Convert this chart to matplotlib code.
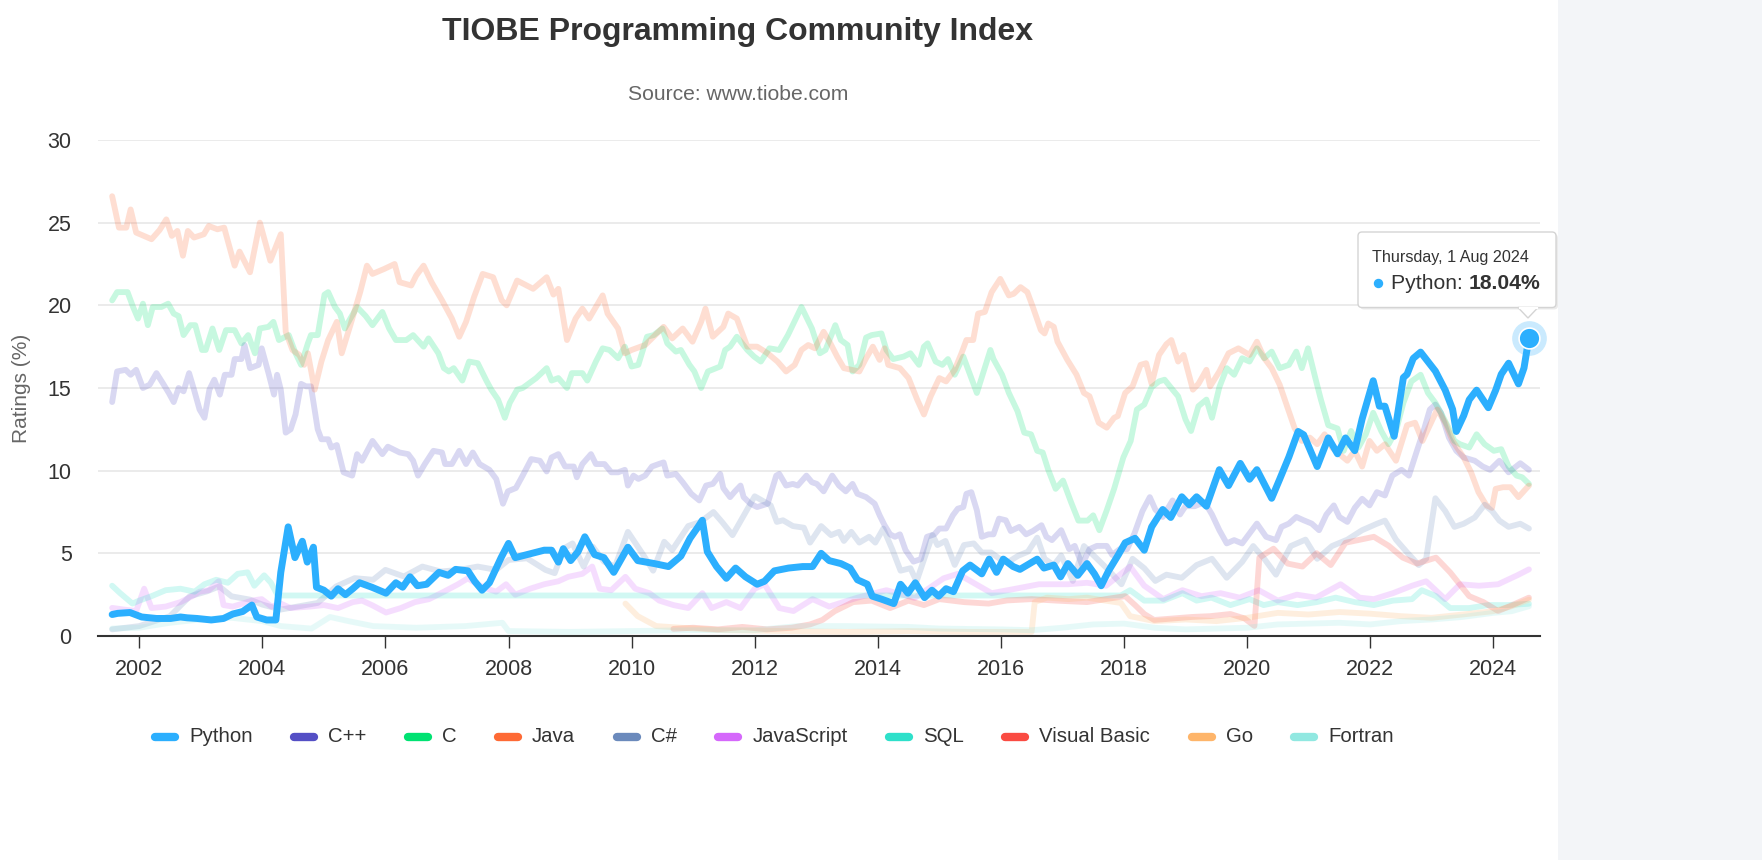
import matplotlib.pyplot as plt
from matplotlib.lines import Line2D
from matplotlib.patches import FancyBboxPatch, Polygon, Rectangle, Circle

plt.rcParams['font.family'] = ['Liberation Sans', 'DejaVu Sans']

# (decimal year, rating %)
python_pts = [
    (2001.56, 1.3), (2001.65, 1.37), (2001.85, 1.42), (2002.04, 1.15), (2002.28, 1.06),
    (2002.51, 1.06), (2002.67, 1.15), (2002.78, 1.1), (2002.94, 1.06), (2003.17, 0.97),
    (2003.37, 1.06), (2003.52, 1.33), (2003.68, 1.48), (2003.83, 1.87), (2003.91, 1.15),
    (2004.07, 0.97), (2004.22, 0.97), (2004.3, 3.85), (2004.42, 6.6), (2004.53, 4.74),
    (2004.65, 5.73), (2004.73, 4.47), (2004.83, 5.37), (2004.88, 2.95), (2005.0, 2.77),
    (2005.12, 2.41), (2005.23, 2.86), (2005.35, 2.5), (2005.47, 2.86), (2005.58, 3.22),
    (2005.78, 2.95), (2006.01, 2.59), (2006.17, 3.22), (2006.28, 2.95), (2006.4, 3.58),
    (2006.52, 3.04), (2006.67, 3.13), (2006.87, 3.85), (2007.02, 3.67), (2007.14, 4.03),
    (2007.34, 3.94), (2007.45, 3.31), (2007.57, 2.77), (2007.69, 3.22), (2007.88, 4.74),
    (2008.0, 5.6), (2008.11, 4.74), (2008.58, 5.19), (2008.7, 5.19), (2008.81, 4.47),
    (2008.89, 5.28), (2009.01, 4.56), (2009.13, 5.1), (2009.24, 6.0), (2009.4, 4.92),
    (2009.55, 4.74), (2009.71, 3.85), (2009.94, 5.37), (2010.1, 4.56), (2010.37, 4.38),
    (2010.6, 4.2), (2010.8, 4.83), (2010.95, 5.91), (2011.08, 6.6), (2011.15, 7.0),
    (2011.23, 5.1), (2011.38, 4.2), (2011.54, 3.49), (2011.69, 4.11), (2011.85, 3.58),
    (2012.04, 3.13), (2012.16, 3.31), (2012.32, 3.94), (2012.55, 4.11), (2012.78, 4.2),
    (2012.94, 4.2), (2013.08, 5.0), (2013.21, 4.56), (2013.4, 4.38), (2013.55, 4.11),
    (2013.67, 3.4), (2013.83, 3.13), (2013.91, 2.41), (2014.06, 2.23), (2014.26, 1.96),
    (2014.37, 3.13), (2014.49, 2.59), (2014.61, 3.22), (2014.76, 2.32), (2014.88, 2.77),
    (2014.99, 2.41), (2015.11, 2.86), (2015.23, 2.68), (2015.38, 3.94), (2015.5, 4.29),
    (2015.69, 3.76), (2015.81, 4.65), (2015.93, 3.85), (2016.04, 4.65), (2016.2, 4.2),
    (2016.31, 4.03), (2016.47, 4.38), (2016.59, 4.65), (2016.7, 4.11), (2016.86, 4.29),
    (2016.97, 3.58), (2017.09, 4.38), (2017.25, 3.67), (2017.4, 4.38), (2017.52, 3.76),
    (2017.63, 3.04), (2017.75, 3.94), (2017.91, 4.92), (2018.02, 5.64), (2018.18, 5.91),
    (2018.33, 5.19), (2018.45, 6.6), (2018.63, 7.65), (2018.76, 7.17), (2018.94, 8.42),
    (2019.06, 7.94), (2019.18, 8.42), (2019.34, 7.85), (2019.55, 10.06), (2019.7, 9.1),
    (2019.89, 10.44), (2020.04, 9.48), (2020.16, 10.06), (2020.28, 9.2), (2020.4, 8.33),
    (2020.53, 9.48), (2020.68, 10.83), (2020.83, 12.37), (2020.92, 12.17), (2021.14, 10.25),
    (2021.32, 11.98), (2021.47, 11.02), (2021.6, 11.98), (2021.75, 11.21), (2021.87, 13.13),
    (2022.05, 15.44), (2022.15, 13.9), (2022.24, 13.9), (2022.39, 12.08), (2022.54, 15.63),
    (2022.6, 15.83), (2022.7, 16.79), (2022.82, 17.17), (2022.94, 16.6), (2023.06, 16.02),
    (2023.22, 14.87), (2023.34, 13.71), (2023.4, 12.37), (2023.52, 13.33), (2023.61, 14.29),
    (2023.73, 14.87), (2023.92, 13.81), (2024.04, 14.87), (2024.13, 15.83), (2024.25, 16.5),
    (2024.41, 15.25), (2024.5, 16.21), (2024.58, 18.04),
]

cpp_pts = [
    (2001.56, 14.15), (2001.64, 16.0), (2001.78, 16.1), (2001.86, 15.8), (2001.95, 16.1),
    (2002.06, 15.0), (2002.17, 15.2), (2002.28, 15.9), (2002.39, 15.25), (2002.48, 14.7),
    (2002.56, 14.15), (2002.64, 15.0), (2002.72, 14.8), (2002.81, 15.9), (2002.89, 14.9),
    (2002.98, 13.7), (2003.06, 13.2), (2003.14, 14.9), (2003.22, 15.5), (2003.31, 14.6),
    (2003.39, 15.8), (2003.5, 15.8), (2003.55, 16.75), (2003.66, 16.75), (2003.71, 17.6),
    (2003.8, 16.2), (2003.94, 16.4), (2003.99, 17.4), (2004.1, 15.9), (2004.19, 14.6),
    (2004.24, 15.8), (2004.3, 14.9), (2004.38, 12.3), (2004.46, 12.5), (2004.54, 13.4),
    (2004.63, 15.25), (2004.71, 15.1), (2004.79, 15.1), (2004.9, 12.5), (2004.96, 11.9),
    (2005.07, 11.9), (2005.12, 11.4), (2005.21, 11.55), (2005.32, 9.9), (2005.46, 9.7),
    (2005.54, 11.0), (2005.62, 10.6), (2005.79, 11.8), (2005.95, 11.0), (2006.04, 11.45),
    (2006.23, 11.1), (2006.37, 11.0), (2006.45, 10.6), (2006.53, 9.7), (2006.64, 10.4),
    (2006.78, 11.2), (2006.92, 11.1), (2006.97, 10.4), (2007.08, 10.4), (2007.2, 11.2),
    (2007.31, 10.4), (2007.42, 11.1), (2007.53, 10.4), (2007.69, 10.05), (2007.8, 9.5),
    (2007.91, 8.0), (2007.99, 8.75), (2008.12, 8.95), (2008.23, 9.7), (2008.37, 10.7),
    (2008.51, 10.6), (2008.62, 9.95), (2008.7, 10.8), (2008.81, 11.0), (2008.92, 10.25),
    (2009.06, 10.25), (2009.11, 9.6), (2009.2, 10.4), (2009.34, 11.0), (2009.42, 10.4),
    (2009.56, 10.4), (2009.67, 9.9), (2009.78, 9.9), (2009.89, 10.05), (2009.94, 9.1),
    (2010.03, 9.7), (2010.11, 9.5), (2010.22, 9.7), (2010.33, 10.25), (2010.44, 10.4),
    (2010.52, 10.5), (2010.58, 9.7), (2010.72, 9.8), (2010.83, 9.3), (2010.97, 8.6),
    (2011.1, 8.2), (2011.21, 9.1), (2011.32, 9.2), (2011.44, 9.8), (2011.49, 8.95),
    (2011.6, 8.4), (2011.68, 8.75), (2011.77, 9.1), (2011.82, 8.4), (2011.93, 8.0),
    (2012.04, 7.8), (2012.21, 8.0), (2012.35, 9.7), (2012.4, 9.8), (2012.51, 9.1),
    (2012.62, 9.2), (2012.7, 9.1), (2012.84, 9.7), (2012.93, 9.3), (2013.01, 9.2),
    (2013.12, 8.75), (2013.26, 9.7), (2013.37, 9.1), (2013.48, 8.75), (2013.59, 9.2),
    (2013.67, 8.6), (2013.81, 8.4), (2013.95, 8.0), (2014.03, 7.3), (2014.11, 6.7),
    (2014.2, 6.15), (2014.28, 6.0), (2014.36, 6.15), (2014.45, 5.2), (2014.58, 4.5),
    (2014.7, 4.65), (2014.8, 6.0), (2014.92, 6.15), (2015.0, 6.5), (2015.11, 6.5),
    (2015.22, 7.3), (2015.3, 7.7), (2015.39, 7.8), (2015.44, 8.6), (2015.52, 8.7),
    (2015.61, 7.6), (2015.69, 6.0), (2015.8, 6.15), (2015.88, 6.15), (2015.97, 7.1),
    (2016.08, 7.0), (2016.16, 6.35), (2016.3, 6.6), (2016.41, 6.15), (2016.52, 6.35),
    (2016.66, 6.7), (2016.74, 6.0), (2016.83, 5.8), (2016.98, 6.4), (2017.11, 5.25),
    (2017.2, 5.45), (2017.32, 4.3), (2017.44, 5.25), (2017.56, 5.45), (2017.72, 5.45),
    (2017.81, 4.9), (2017.93, 5.25), (2018.05, 5.25), (2018.17, 6.2), (2018.3, 7.55),
    (2018.42, 8.4), (2018.51, 7.65), (2018.63, 7.2), (2018.79, 8.2), (2018.91, 7.35),
    (2019.0, 7.85), (2019.15, 7.85), (2019.31, 8.1), (2019.43, 7.35), (2019.55, 6.4),
    (2019.67, 5.6), (2019.79, 5.8), (2019.92, 5.6), (2020.04, 6.2), (2020.16, 6.8),
    (2020.31, 6.0), (2020.47, 5.8), (2020.56, 6.6), (2020.68, 6.8), (2020.8, 7.2),
    (2020.92, 7.0), (2021.05, 6.8), (2021.17, 6.4), (2021.29, 7.35), (2021.41, 7.9),
    (2021.5, 7.2), (2021.63, 6.9), (2021.75, 7.75), (2021.87, 8.3), (2021.99, 7.9),
    (2022.11, 8.7), (2022.24, 8.5), (2022.36, 9.7), (2022.51, 10.05), (2022.63, 9.7),
    (2022.76, 11.2), (2022.88, 12.55), (2022.97, 13.7), (2023.06, 14.0), (2023.15, 13.5),
    (2023.28, 12.0), (2023.4, 11.2), (2023.52, 10.8), (2023.7, 10.6), (2023.83, 10.25),
    (2023.95, 10.05), (2024.1, 10.6), (2024.25, 9.9), (2024.44, 10.45), (2024.58, 10.05),
]

c_pts = [
    (2001.56, 20.3), (2001.64, 20.8), (2001.81, 20.8), (2001.9, 19.9), (2001.98, 19.2),
    (2002.06, 20.1), (2002.14, 18.8), (2002.22, 19.9), (2002.36, 19.9), (2002.47, 20.1),
    (2002.56, 19.5), (2002.64, 19.35), (2002.72, 18.2), (2002.83, 18.8), (2002.91, 18.8),
    (2003.02, 17.3), (2003.08, 17.3), (2003.19, 18.6), (2003.3, 17.3), (2003.41, 18.5),
    (2003.55, 18.5), (2003.66, 17.7), (2003.77, 18.2), (2003.88, 17.1), (2003.96, 18.6),
    (2004.1, 18.7), (2004.18, 19.0), (2004.27, 17.9), (2004.43, 18.2), (2004.54, 17.1),
    (2004.63, 16.4), (2004.74, 17.7), (2004.79, 18.2), (2004.9, 18.2), (2005.01, 20.65),
    (2005.07, 20.8), (2005.18, 19.9), (2005.26, 19.5), (2005.34, 18.6), (2005.43, 19.2),
    (2005.54, 19.9), (2005.68, 19.35), (2005.79, 18.8), (2005.95, 19.6), (2006.06, 18.6),
    (2006.17, 17.9), (2006.34, 17.9), (2006.45, 18.2), (2006.62, 17.5), (2006.7, 18.0),
    (2006.86, 17.1), (2006.95, 16.2), (2007.03, 16.0), (2007.11, 16.2), (2007.25, 15.45),
    (2007.36, 16.6), (2007.5, 16.5), (2007.64, 15.45), (2007.72, 14.9), (2007.83, 14.3),
    (2007.94, 13.2), (2008.02, 14.1), (2008.14, 14.9), (2008.23, 15.0), (2008.45, 15.6),
    (2008.62, 16.2), (2008.7, 15.45), (2008.81, 15.6), (2008.95, 15.0), (2009.03, 15.9),
    (2009.2, 15.9), (2009.28, 15.45), (2009.42, 16.6), (2009.53, 17.4), (2009.64, 17.3),
    (2009.78, 16.8), (2009.89, 17.5), (2010.0, 16.3), (2010.11, 16.4), (2010.25, 18.1),
    (2010.36, 18.2), (2010.5, 18.6), (2010.58, 17.7), (2010.72, 17.2), (2010.8, 17.3),
    (2010.94, 16.4), (2011.02, 16.0), (2011.13, 15.0), (2011.24, 16.0), (2011.44, 16.3),
    (2011.52, 17.3), (2011.6, 17.5), (2011.71, 18.1), (2011.88, 17.3), (2011.99, 16.9),
    (2012.1, 16.6), (2012.24, 17.4), (2012.4, 17.3), (2012.54, 18.2), (2012.76, 19.9),
    (2012.93, 18.6), (2013.06, 17.1), (2013.15, 17.3), (2013.31, 18.8), (2013.4, 17.9),
    (2013.51, 17.6), (2013.59, 16.0), (2013.7, 16.4), (2013.81, 18.05), (2013.9, 18.2),
    (2014.06, 18.3), (2014.14, 17.3), (2014.25, 16.75), (2014.42, 16.9), (2014.53, 17.1),
    (2014.67, 16.4), (2014.75, 17.5), (2014.81, 17.7), (2014.94, 16.6), (2015.05, 16.4),
    (2015.14, 16.75), (2015.25, 15.8), (2015.39, 16.9), (2015.52, 15.6), (2015.61, 14.7),
    (2015.72, 16.0), (2015.83, 17.3), (2015.88, 16.75), (2016.02, 15.8), (2016.13, 14.7),
    (2016.27, 13.6), (2016.38, 12.3), (2016.49, 12.2), (2016.59, 11.2), (2016.68, 11.1),
    (2016.77, 10.05), (2016.89, 8.9), (2017.01, 9.4), (2017.14, 8.1), (2017.26, 6.98),
    (2017.41, 6.98), (2017.5, 7.3), (2017.6, 6.4), (2017.72, 7.6), (2017.84, 8.9),
    (2017.99, 10.8), (2018.11, 11.8), (2018.21, 13.7), (2018.33, 14.0), (2018.45, 15.05),
    (2018.57, 15.4), (2018.66, 15.5), (2018.79, 14.9), (2018.88, 14.5), (2019.0, 13.1),
    (2019.09, 12.4), (2019.21, 13.9), (2019.34, 14.3), (2019.43, 13.2), (2019.55, 15.05),
    (2019.67, 16.2), (2019.79, 15.8), (2019.92, 16.8), (2020.04, 16.6), (2020.16, 17.4),
    (2020.28, 16.8), (2020.4, 17.2), (2020.53, 16.2), (2020.68, 16.4), (2020.8, 17.2),
    (2020.89, 16.2), (2020.99, 17.4), (2021.11, 15.6), (2021.2, 14.3), (2021.32, 12.75),
    (2021.47, 12.55), (2021.57, 11.2), (2021.69, 12.4), (2021.81, 11.4), (2021.93, 12.2),
    (2022.05, 13.5), (2022.18, 12.4), (2022.3, 11.6), (2022.42, 12.4), (2022.54, 14.1),
    (2022.67, 15.4), (2022.82, 15.8), (2022.94, 14.7), (2023.06, 14.1), (2023.15, 13.5),
    (2023.28, 12.55), (2023.37, 11.8), (2023.46, 11.6), (2023.61, 11.4), (2023.73, 12.2),
    (2023.86, 11.6), (2024.01, 11.2), (2024.13, 11.3), (2024.25, 10.25), (2024.38, 9.7),
    (2024.47, 9.6), (2024.58, 9.2),
]

java_pts = [
    (2001.56, 26.6), (2001.67, 24.7), (2001.79, 24.7), (2001.86, 25.8), (2001.95, 24.4),
    (2002.2, 24.0), (2002.33, 24.55), (2002.44, 25.2), (2002.53, 24.2), (2002.62, 24.5),
    (2002.71, 23.0), (2002.79, 24.5), (2002.89, 24.1), (2003.05, 24.3), (2003.13, 24.8),
    (2003.27, 24.6), (2003.38, 24.7), (2003.55, 22.4), (2003.63, 23.25), (2003.8, 22.0),
    (2003.96, 25.0), (2004.13, 22.7), (2004.3, 24.3), (2004.38, 18.4), (2004.49, 17.3),
    (2004.6, 17.0), (2004.68, 16.4), (2004.74, 17.1), (2004.85, 14.9), (2004.96, 16.6),
    (2005.07, 17.9), (2005.21, 19.0), (2005.29, 17.1), (2005.43, 18.8), (2005.59, 20.8),
    (2005.7, 22.4), (2005.79, 21.9), (2005.98, 22.2), (2006.15, 22.5), (2006.23, 21.4),
    (2006.42, 21.2), (2006.5, 21.8), (2006.62, 22.4), (2006.75, 21.4), (2006.92, 20.3),
    (2007.08, 19.2), (2007.2, 18.1), (2007.31, 19.0), (2007.44, 20.5), (2007.58, 21.9),
    (2007.75, 21.7), (2007.89, 20.3), (2007.97, 20.0), (2008.14, 21.5), (2008.4, 21.0),
    (2008.62, 21.7), (2008.73, 20.65), (2008.81, 21.0), (2008.95, 17.9), (2009.09, 19.2),
    (2009.2, 19.8), (2009.31, 19.2), (2009.53, 20.6), (2009.61, 19.5), (2009.78, 18.6),
    (2009.89, 17.1), (2010.0, 17.3), (2010.22, 17.6), (2010.33, 18.0), (2010.52, 18.7),
    (2010.66, 18.0), (2010.83, 18.6), (2010.99, 17.8), (2011.13, 19.0), (2011.2, 19.8),
    (2011.32, 18.1), (2011.49, 18.7), (2011.57, 19.5), (2011.71, 19.2), (2011.88, 17.5),
    (2012.04, 17.5), (2012.21, 17.1), (2012.37, 16.6), (2012.51, 16.0), (2012.65, 16.4),
    (2012.76, 17.3), (2012.87, 17.6), (2012.98, 17.4), (2013.12, 18.4), (2013.23, 17.7),
    (2013.34, 16.9), (2013.45, 16.2), (2013.7, 16.0), (2013.81, 16.8), (2013.92, 17.5),
    (2014.03, 16.7), (2014.11, 17.4), (2014.17, 16.4), (2014.36, 16.2), (2014.5, 15.6),
    (2014.64, 14.3), (2014.75, 13.4), (2014.86, 14.5), (2015.0, 15.6), (2015.11, 15.4),
    (2015.25, 16.1), (2015.36, 17.1), (2015.44, 17.9), (2015.55, 17.9), (2015.63, 19.5),
    (2015.74, 19.6), (2015.85, 20.8), (2015.99, 21.6), (2016.13, 20.6), (2016.21, 20.7),
    (2016.32, 21.1), (2016.43, 20.8), (2016.52, 19.9), (2016.65, 18.5), (2016.71, 18.3),
    (2016.77, 18.9), (2016.86, 18.7), (2016.92, 17.8), (2017.08, 16.7), (2017.23, 15.8),
    (2017.35, 14.7), (2017.44, 14.5), (2017.59, 12.9), (2017.72, 12.6), (2017.84, 13.2),
    (2017.9, 13.3), (2018.02, 14.7), (2018.14, 15.1), (2018.27, 16.4), (2018.36, 16.5),
    (2018.45, 15.25), (2018.57, 17.0), (2018.69, 17.65), (2018.77, 17.9), (2018.88, 16.6),
    (2018.97, 17.0), (2019.12, 14.9), (2019.21, 15.25), (2019.34, 16.1), (2019.4, 15.1),
    (2019.55, 16.0), (2019.7, 17.1), (2019.86, 17.4), (2020.04, 17.0), (2020.16, 17.8),
    (2020.28, 16.8), (2020.4, 16.2), (2020.53, 15.2), (2020.65, 13.9), (2020.77, 12.6),
    (2020.89, 11.8), (2021.02, 12.0), (2021.14, 11.6), (2021.26, 12.2), (2021.38, 11.4),
    (2021.5, 11.0), (2021.63, 10.6), (2021.75, 11.2), (2021.87, 10.25), (2021.99, 11.8),
    (2022.11, 11.2), (2022.24, 11.6), (2022.42, 10.6), (2022.6, 12.75), (2022.73, 12.9),
    (2022.85, 11.8), (2022.97, 12.75), (2023.09, 13.7), (2023.22, 12.9), (2023.34, 11.8),
    (2023.52, 10.8), (2023.64, 9.9), (2023.76, 8.7), (2023.89, 7.9), (2023.98, 7.75),
    (2024.04, 8.9), (2024.16, 9.0), (2024.28, 9.0), (2024.41, 8.4), (2024.58, 9.1),
]

csharp_pts = [
    (2001.56, 0.4), (2002.0, 0.6), (2002.5, 1.2), (2002.82, 2.4), (2003.1, 2.7),
    (2003.3, 3.0), (2003.5, 2.4), (2003.8, 2.2), (2004.0, 1.9), (2004.3, 1.6),
    (2004.6, 1.8), (2004.9, 2.0), (2005.2, 3.0), (2005.5, 3.5), (2005.8, 3.4),
    (2006.0, 4.0), (2006.3, 3.6), (2006.6, 4.2), (2006.9, 3.9), (2007.2, 4.0),
    (2007.5, 4.2), (2007.8, 4.0), (2008.0, 4.6), (2008.3, 4.7), (2008.6, 4.0),
    (2008.75, 3.8), (2008.9, 5.3), (2009.04, 5.6), (2009.22, 4.2), (2009.37, 5.4),
    (2009.55, 4.5), (2009.73, 4.2), (2009.94, 6.3), (2010.2, 4.85), (2010.35, 3.95),
    (2010.53, 5.7), (2010.66, 5.2), (2010.92, 6.65), (2011.12, 6.9), (2011.33, 7.5),
    (2011.48, 6.85), (2011.64, 6.1), (2011.74, 6.75), (2012.0, 8.45), (2012.26, 7.9),
    (2012.36, 6.9), (2012.46, 7.0), (2012.62, 6.65), (2012.8, 6.55), (2012.9, 5.65),
    (2013.08, 6.65), (2013.24, 6.1), (2013.37, 6.3), (2013.45, 5.75), (2013.57, 6.3),
    (2013.7, 5.65), (2013.86, 6.0), (2013.96, 5.65), (2014.09, 6.5), (2014.24, 5.2),
    (2014.37, 3.95), (2014.53, 4.1), (2014.63, 3.3), (2014.79, 5.05), (2014.89, 6.1),
    (2014.97, 5.5), (2015.1, 5.75), (2015.25, 4.3), (2015.4, 5.5), (2015.56, 5.6),
    (2015.69, 5.05), (2015.84, 5.05), (2015.97, 4.7), (2016.13, 4.5), (2016.28, 4.85),
    (2016.44, 5.1), (2016.59, 5.95), (2016.71, 4.67), (2016.86, 4.29), (2016.98, 4.87),
    (2017.17, 3.33), (2017.35, 5.44), (2017.72, 4.1), (2017.96, 3.13), (2018.14, 4.67),
    (2018.33, 4.1), (2018.51, 3.33), (2018.69, 3.71), (2018.94, 3.52), (2019.18, 4.29),
    (2019.43, 4.67), (2019.67, 3.52), (2019.92, 4.48), (2020.1, 5.44), (2020.28, 4.67),
    (2020.47, 3.71), (2020.71, 5.44), (2020.95, 5.83), (2021.14, 4.67), (2021.38, 5.44),
    (2021.63, 5.83), (2021.87, 6.4), (2022.11, 6.79), (2022.24, 6.98), (2022.42, 5.83),
    (2022.6, 5.06), (2022.79, 4.29), (2022.91, 4.67), (2023.06, 8.33), (2023.22, 7.56),
    (2023.37, 6.6), (2023.52, 6.79), (2023.7, 7.17), (2023.86, 7.94), (2023.98, 7.56),
    (2024.1, 6.98), (2024.25, 6.6), (2024.44, 6.79), (2024.58, 6.5),
]

js_pts = [
    (2001.56, 1.7), (2001.75, 1.6), (2001.95, 1.51), (2002.08, 2.86), (2002.2, 1.69),
    (2002.43, 1.78), (2002.67, 2.05), (2002.86, 2.41), (2002.98, 2.68), (2003.13, 2.77),
    (2003.29, 3.31), (2003.37, 1.87), (2003.52, 1.78), (2003.68, 1.96), (2003.83, 2.14),
    (2003.99, 2.23), (2004.15, 1.78), (2004.3, 1.96), (2004.46, 1.69), (2004.77, 1.78),
    (2005.0, 1.87), (2005.23, 1.69), (2005.47, 2.05), (2005.62, 2.14), (2005.78, 1.87),
    (2006.01, 1.42), (2006.25, 1.69), (2006.48, 2.05), (2006.71, 2.23), (2006.95, 2.68),
    (2007.18, 3.13), (2007.34, 3.49), (2007.49, 3.13), (2007.65, 2.86), (2007.8, 2.68),
    (2007.96, 3.13), (2008.11, 2.5), (2008.35, 2.86), (2008.58, 3.13), (2008.81, 3.31),
    (2008.97, 3.58), (2009.2, 3.76), (2009.36, 4.2), (2009.48, 2.86), (2009.67, 2.77),
    (2009.9, 3.58), (2010.06, 2.86), (2010.29, 2.59), (2010.45, 2.14), (2010.68, 1.87),
    (2010.92, 1.69), (2011.15, 2.59), (2011.3, 1.69), (2011.54, 2.05), (2011.77, 1.69),
    (2012.0, 2.86), (2012.16, 3.13), (2012.4, 1.69), (2012.63, 1.51), (2012.94, 2.23),
    (2013.21, 1.78), (2013.67, 2.32), (2014.14, 2.77), (2014.6, 2.3), (2015.07, 3.49),
    (2015.3, 3.76), (2015.85, 2.59), (2016.24, 2.86), (2016.62, 3.13), (2017.09, 3.13),
    (2017.4, 3.22), (2017.71, 3.04), (2018.1, 4.2), (2018.33, 3.04), (2018.64, 2.23),
    (2018.95, 2.77), (2019.26, 2.41), (2019.57, 2.59), (2019.88, 2.32), (2020.19, 2.77),
    (2020.5, 2.14), (2020.81, 2.5), (2021.12, 2.32), (2021.52, 3.13), (2021.83, 2.32),
    (2022.06, 2.23), (2022.37, 2.59), (2022.68, 3.04), (2022.91, 3.31), (2023.22, 2.23),
    (2023.46, 3.13), (2023.77, 3.04), (2024.08, 3.13), (2024.39, 3.67), (2024.58, 4.03),
]

sql_pts = [
    (2001.56, 3.04), (2001.69, 2.59), (2001.89, 1.96), (2002.0, 2.14), (2002.2, 2.41),
    (2002.43, 2.77), (2002.67, 2.86), (2002.9, 2.68), (2003.06, 3.13), (2003.25, 3.4),
    (2003.44, 3.22), (2003.6, 3.76), (2003.76, 3.85), (2003.87, 3.04), (2004.03, 3.67),
    (2004.14, 3.22), (2004.25, 2.45), (2017.95, 2.45), (2018.1, 2.77), (2018.33, 2.14),
    (2018.64, 2.14), (2018.95, 2.59), (2019.18, 2.14), (2019.42, 2.32), (2019.73, 1.87),
    (2020.04, 2.23), (2020.27, 1.87), (2020.5, 2.05), (2020.82, 1.87), (2021.13, 2.05),
    (2021.44, 2.32), (2021.75, 2.05), (2022.06, 1.87), (2022.37, 2.14), (2022.68, 2.23),
    (2022.84, 2.77), (2023.07, 2.41), (2023.3, 1.69), (2023.61, 1.69), (2023.92, 1.87),
    (2024.23, 1.87), (2024.58, 1.95),
]

vb_pts = [
    (2010.68, 0.43), (2011.0, 0.5), (2011.4, 0.4), (2011.8, 0.55), (2012.2, 0.4),
    (2012.6, 0.5), (2012.9, 0.7), (2013.1, 0.97), (2013.3, 1.5), (2013.6, 2.05),
    (2013.9, 2.14), (2014.2, 1.69), (2014.5, 2.14), (2014.75, 1.87), (2015.0, 2.23),
    (2015.4, 2.05), (2015.8, 1.96), (2016.1, 2.15), (2016.5, 2.23), (2016.9, 2.14),
    (2017.4, 2.05), (2017.7, 2.23), (2018.02, 2.41), (2018.18, 1.87), (2018.33, 1.33),
    (2018.49, 0.97), (2018.8, 1.06), (2019.1, 1.15), (2019.4, 1.2), (2019.73, 1.33),
    (2019.96, 1.06), (2020.12, 0.61), (2020.2, 4.74), (2020.43, 5.28), (2020.66, 4.38),
    (2020.9, 4.2), (2021.13, 5.01), (2021.36, 4.29), (2021.6, 5.64), (2021.83, 5.82),
    (2022.06, 6.0), (2022.3, 5.46), (2022.53, 4.74), (2022.76, 4.38), (2023.07, 4.74),
    (2023.3, 3.85), (2023.61, 2.41), (2023.84, 2.05), (2024.08, 1.51), (2024.31, 1.87),
    (2024.58, 2.32),
]

go_pts = [
    (2009.9, 1.96), (2010.1, 1.2), (2010.4, 0.6), (2010.8, 0.5), (2011.5, 0.35),
    (2012.5, 0.3), (2013.5, 0.25), (2014.5, 0.3), (2015.5, 0.25), (2016.5, 0.25),
    (2016.55, 2.05), (2016.75, 2.32), (2017.1, 2.23), (2017.4, 2.32), (2017.7, 2.14),
    (2017.95, 2.0), (2018.1, 1.2), (2018.5, 0.9), (2019.0, 1.0), (2019.5, 0.9),
    (2020.0, 1.1), (2020.5, 1.4), (2021.0, 1.3), (2021.5, 1.45), (2022.0, 1.35),
    (2022.5, 1.2), (2023.0, 1.1), (2023.5, 1.3), (2024.0, 1.5), (2024.3, 1.8),
    (2024.58, 2.2),
]

fortran_pts = [
    (2001.56, 0.45), (2002.0, 0.5), (2002.5, 0.8), (2003.0, 1.0), (2003.5, 1.1),
    (2004.0, 0.9), (2004.3, 0.6), (2004.8, 0.45), (2005.1, 1.15), (2005.4, 0.9),
    (2005.8, 0.6), (2006.5, 0.5), (2007.3, 0.6), (2007.9, 0.8), (2008.0, 0.3),
    (2009.0, 0.25), (2010.0, 0.3), (2011.0, 0.35), (2012.0, 0.35), (2012.7, 0.6),
    (2013.5, 0.6), (2014.5, 0.55), (2015.0, 0.45), (2016.0, 0.4), (2016.5, 0.35),
    (2017.0, 0.5), (2017.5, 0.7), (2018.0, 0.75), (2018.5, 0.5), (2019.0, 0.4),
    (2019.5, 0.45), (2020.0, 0.5), (2020.5, 0.7), (2021.0, 0.75), (2021.5, 0.8),
    (2022.0, 0.7), (2022.5, 0.9), (2023.0, 1.0), (2023.5, 1.15), (2024.0, 1.4),
    (2024.3, 1.5), (2024.58, 1.8),
]

names = ['Python', 'C++', 'C', 'Java', 'C#', 'JavaScript', 'SQL', 'Visual Basic', 'Go', 'Fortran']
series = [python_pts, cpp_pts, c_pts, java_pts, csharp_pts, js_pts, sql_pts, vb_pts, go_pts, fortran_pts]
colors = ['#2caffe', '#544fc5', '#00e272', '#fe6a35', '#6b8abc',
          '#d568fb', '#2ee0ca', '#fa4b42', '#feb56a', '#91e8e1']
year_ticks = list(range(2002, 2025, 2))

W, H = 1762, 860
fig = plt.figure(figsize=(W / 100, H / 100), dpi=100)
inch = fig.dpi_scale_trans


def px(x, y):
    # pixel position (from top-left) -> inches for dpi_scale_trans
    return x / 100, (H - y) / 100


# page background strip at the right
fig.add_artist(Rectangle(px(1558, H), (W - 1558) / 100, H / 100, transform=inch,
                         facecolor='#f3f5f8', edgecolor='none', zorder=0))

ax = fig.add_axes([98 / W, 1 - 636 / H, (1540 - 98) / W, (636 - 140) / H])
ax.set_xlim(2001.33, 2024.76)
ax.set_ylim(0, 30)

for name, pts, col in zip(names, series, colors):
    xs = [p[0] for p in pts]
    ys = [p[1] for p in pts]
    if name == 'Python':
        ax.plot(xs, ys, color=col, lw=5.0, solid_joinstyle='round',
                solid_capstyle='round', zorder=5)
    else:
        ax.plot(xs, ys, color=col, lw=4.2, alpha=0.22, solid_joinstyle='round',
                solid_capstyle='round', zorder=3)

# hovered last point
last_x, last_y = python_pts[-1]
ax.plot([last_x], [last_y], 'o', ms=25, color='#2caffe', alpha=0.25, mec='none',
        zorder=6, clip_on=False)
ax.plot([last_x], [last_y], 'o', ms=15, color='#2caffe', mec='white', mew=1.2,
        zorder=7, clip_on=False)

ax.set_yticks(range(0, 31, 5))
ax.set_xticks(year_ticks)
ax.set_xticklabels([str(y) for y in year_ticks])
ax.grid(axis='y', color='#e6e6e6', lw=1.1)
ax.set_axisbelow(True)
for s in ['top', 'left', 'right']:
    ax.spines[s].set_visible(False)
ax.spines['bottom'].set_color('#333333')
ax.spines['bottom'].set_linewidth(1.5)
ax.spines['bottom'].set_zorder(8)
ax.tick_params(axis='x', length=8.6, width=1.0, color='#333333', pad=8,
               labelsize=15.5, labelcolor='#333333')
ax.tick_params(axis='y', length=0, pad=19, labelsize=15.5, labelcolor='#333333')

fig.text(*px(22, 388), 'Ratings (%)', transform=inch, rotation=90, ha='center',
         va='center', fontsize=15, color='#666666')

# title and subtitle
fig.text(*px(738, 32), 'TIOBE Programming Community Index', transform=inch,
         ha='center', va='center', fontsize=23, fontweight='bold', color='#333333')
fig.text(*px(738, 95), 'Source: www.tiobe.com', transform=inch,
         ha='center', va='center', fontsize=15.2, color='#666666')

# legend
renderer = fig.canvas.get_renderer()
x = 151
for name, col in zip(names, colors):
    fig.add_artist(Line2D([(x + 4) / 100, (x + 24) / 100], [(H - 737) / 100] * 2,
                          transform=inch, color=col, lw=6, solid_capstyle='round'))
    t = fig.text(*px(x + 38, 737), name, transform=inch, ha='left', va='center',
                 fontsize=14.7, color='#333333')
    bb = t.get_window_extent(renderer)
    x = bb.x1 * 100 / fig.dpi + 37.5

# tooltip
fig.add_artist(FancyBboxPatch(px(1360, 309.5), 198 / 100, 75.5 / 100, transform=inch,
                              boxstyle='round,pad=0,rounding_size=0.04',
                              facecolor='#000000', alpha=0.08, edgecolor='none', zorder=9))
fig.add_artist(FancyBboxPatch(px(1358, 307.5), 198 / 100, 75.5 / 100, transform=inch,
                              boxstyle='round,pad=0,rounding_size=0.04',
                              facecolor='white', edgecolor='#d4d4d4', lw=1.0, zorder=10))
fig.add_artist(Polygon([px(1518, 307.5), px(1538, 307.5), px(1528, 318)], closed=True,
                       transform=inch, facecolor='white', edgecolor='#d4d4d4', lw=1.0,
                       zorder=10))
fig.add_artist(Line2D([1519.5 / 100, 1536.5 / 100], [(H - 307.5) / 100] * 2,
                      transform=inch, color='white', lw=1.6, zorder=11))
fig.text(*px(1371.5, 257.5), 'Thursday, 1 Aug 2024', transform=inch, ha='left',
         va='center', fontsize=11.6, color='#333333', zorder=12)
fig.add_artist(Circle(px(1378.5, 283.5), 0.04, transform=inch, color='#2caffe', zorder=12))
t1 = fig.text(*px(1391, 283.5), 'Python: ', transform=inch, ha='left', va='center',
              fontsize=15.2, color='#333333', zorder=12)
bb = t1.get_window_extent(renderer)
fig.text(bb.x1 / fig.dpi, (H - 283.5) / 100, '18.04%', transform=inch, ha='left',
         va='center', fontsize=15.2, fontweight='bold', color='#333333', zorder=12)

fig.savefig('out.png', dpi=100)
